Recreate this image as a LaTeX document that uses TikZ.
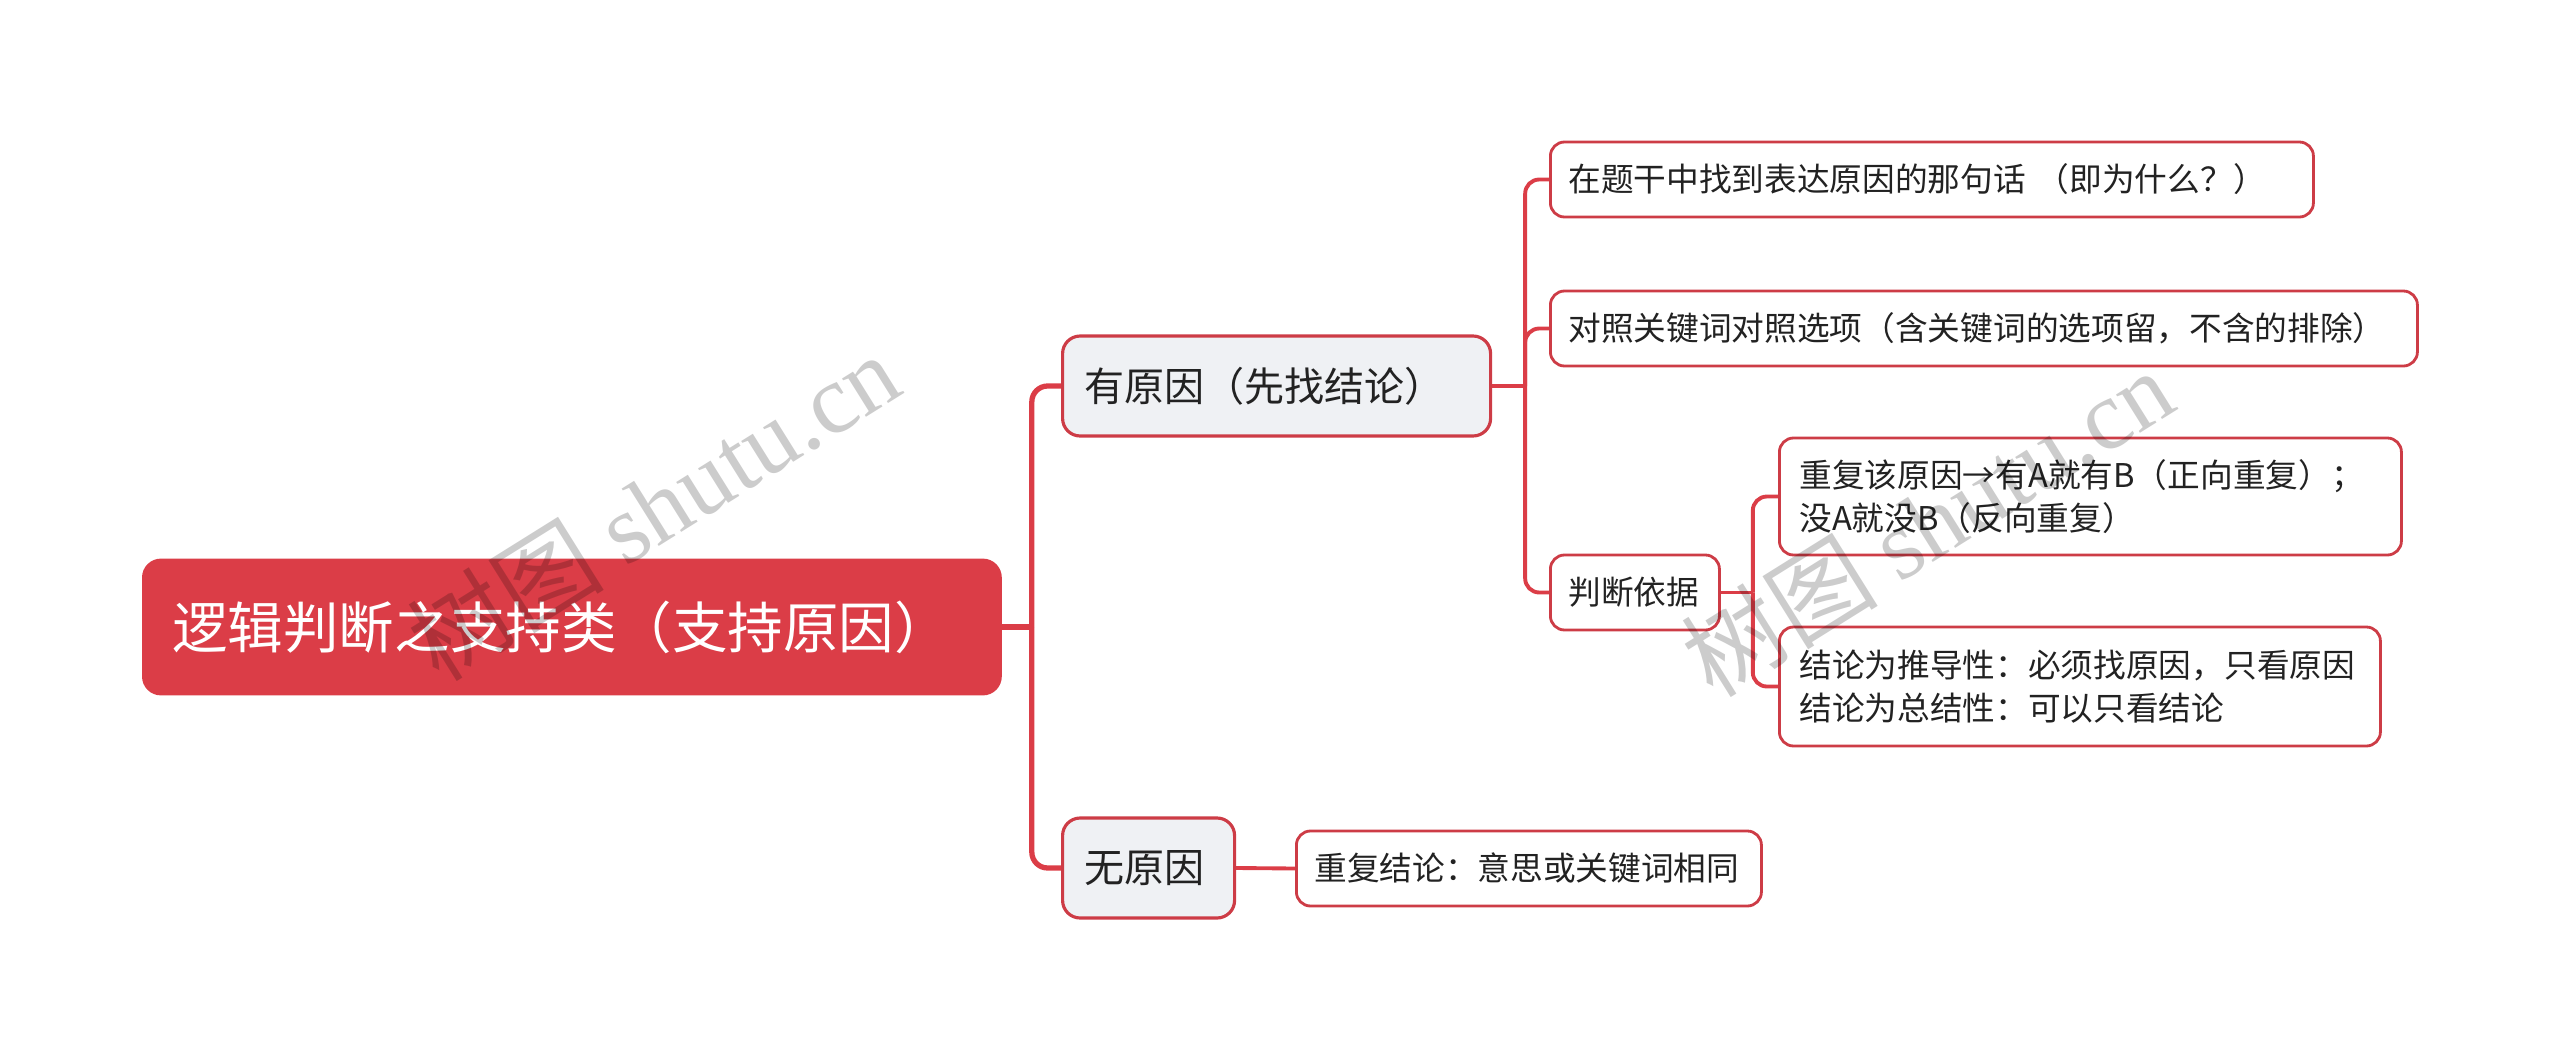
\documentclass[tikz,border=0pt]{standalone}
\usepackage{fontspec}
\setmainfont{Noto Sans CJK SC}
\newfontfamily\wmfont{Liberation Serif}
\usepackage{xcolor}
\usetikzlibrary{positioning,calc}
\definecolor{mapred}{RGB}{219,61,71}
\definecolor{edgered}{RGB}{205,60,70}
\definecolor{boxgray}{RGB}{239,241,244}
\definecolor{inkgray}{RGB}{34,34,34}

\begin{document}
\begin{tikzpicture}[
  rootbox/.style={draw=mapred,fill=mapred,text=white,rounded corners=5pt,line width=0.8pt,
    minimum height=1.34cm,inner xsep=0.29cm,anchor=west,align=left,font=\fontsize{15.8}{19}\selectfont},
  topicbox/.style={draw=edgered,fill=boxgray,text=inkgray,rounded corners=5pt,line width=0.9pt,
    minimum height=1cm,inner xsep=0.215cm,anchor=west,align=left,font=\fontsize{11.4}{14}\selectfont},
  leafbox/.style={draw=edgered,fill=white,text=inkgray,rounded corners=4pt,line width=0.8pt,
    minimum height=0.75cm,inner xsep=0.18cm,anchor=west,align=left,font=\fontsize{9.3}{12.1}\selectfont},
  link/.style={draw=mapred,line width=1.5pt,rounded corners=4.5pt},
  twig/.style={draw=mapred,line width=1.1pt,rounded corners=4pt},
  wm/.style={text=black,text opacity=0.2,font=\fontsize{28}{30}\selectfont,rotate=32}
]
\useasboundingbox (0,0) rectangle (25.6,10.61);
% Root
\node[rootbox,text width=7.99cm] (root) at (1.42,4.34) {逻辑判断之支持类（支持原因）};
% Level 2
\node[topicbox,text width=3.85cm] (cause) at (10.61,6.75) {有原因（先找结论）};
\node[topicbox,text width=1.29cm] (nocause) at (10.61,1.93) {无原因};
% Level 3
\node[leafbox,text width=7.27cm] (find) at (15.49,8.815) {在题干中找到表达原因的那句话 （即为什么？）};
\node[leafbox,text width=8.31cm] (match) at (15.49,7.325) {对照关键词对照选项（含关键词的选项留，不含的排除）};
\node[leafbox,text width=1.33cm] (judge) at (15.49,4.685) {判断依据};
\node[leafbox,text width=4.29cm] (same) at (12.95,1.925) {重复结论：意思或关键词相同};
% Level 4
\node[leafbox,inner xsep=0.2cm,text width=5.82cm,minimum height=1.17cm] (rep) at (17.78,5.645)
  {重复该原因→有A就有B（正向重复）；\\没A就没B（反向重复）};
\node[leafbox,inner xsep=0.2cm,text width=5.61cm,minimum height=1.19cm] (concl) at (17.78,3.745)
  {结论为推导性：必须找原因，只看原因\\结论为总结性：可以只看结论};
% Connectors
\coordinate (rj) at ($(root.east)+(0.30,0)$);
\draw[link] (root.east) -- (rj);
\draw[link] (rj) |- (cause.west);
\draw[link] (rj) |- (nocause.west);
\coordinate (cj) at ($(cause.east)+(0.33,0)$);
\draw[twig] (cause.east) -- (cj);
\foreach \leaf in {find,match,judge}
  \draw[twig] (cj) |- (\leaf.west);
\coordinate (jj) at ($(judge.east)+(0.32,0)$);
\draw[twig] (judge.east) -- (jj);
\foreach \leaf in {rep,concl}
  \draw[twig] (jj) |- (\leaf.west);
\draw[twig] (nocause.east) -- (same.west);
% Watermarks
\node[wm] (wm1) at (6.53,5.55) {树图 {\wmfont shutu.cn}};
\node[wm] (wm2) at (19.27,5.39) {树图 {\wmfont shutu.cn}};
\end{tikzpicture}
\end{document}
